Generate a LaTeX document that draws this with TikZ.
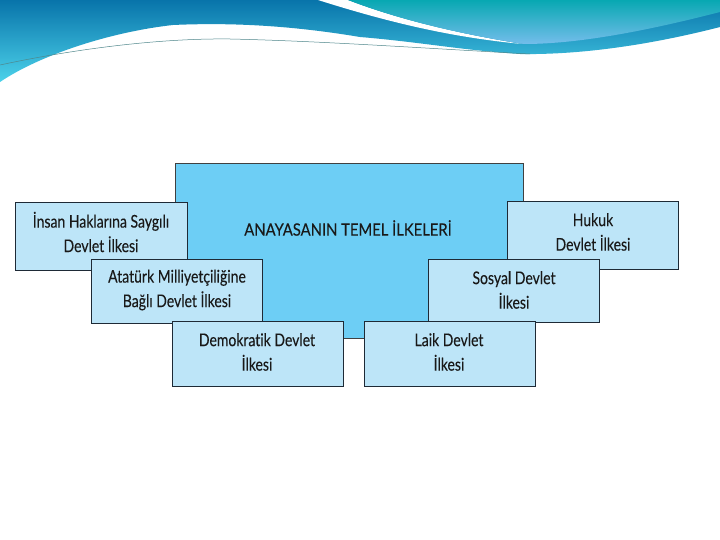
\documentclass[tikz,border=0pt]{standalone}
\usepackage{fontspec}
\setmainfont{Lato}
\newfontfamily\boxfont[FakeStretch=0.8, FakeBold=0.15, Ligatures=NoCommon]{Lato}
\newfontfamily\titlefont[FakeStretch=0.87, FakeBold=0.15, Ligatures=NoCommon]{Lato}
\begin{document}
\begin{tikzpicture}[x=1pt,y=-1pt,
  lbl/.style={font=\boxfont\fontsize{17.5}{24.5}\selectfont, text=black!90, align=center, inner sep=0pt},
  ttl/.style={font=\titlefont\fontsize{17}{24}\selectfont, text=black!90, inner sep=0pt},
  bigbox/.style={draw=black!75, line width=1pt, fill=bigblue, anchor=north west, inner sep=0pt},
  smallbox/.style={draw=boxedge, line width=1.4pt, fill=lightblue, anchor=north west, inner sep=0pt}]
\definecolor{bigblue}{HTML}{6DCEF5}
\definecolor{lightblue}{HTML}{BDE5F8}
\definecolor{boxedge}{HTML}{1E2A36}
\definecolor{topdark}{HTML}{0874AA}
\definecolor{topcyan}{HTML}{4CD2EA}
\definecolor{teal}{HTML}{08A8B2}
\definecolor{tealbot}{HTML}{74BDEB}
\useasboundingbox (0,0) rectangle (720,540);
\fill[white] (0,0) rectangle (720,540);
% header waves
\shade[top color=topdark, bottom color=topcyan]
  (0,0) -- (720,0) -- (720,27) .. controls (650,45) and (580,55) .. (520,54)
  .. controls (460,50) and (420,42) .. (360,37)
  .. controls (300,27) and (240,22) .. (173,25)
  .. controls (110,32) and (40,55) .. (0,82) -- cycle;
\fill[white] (318,0) .. controls (400,26) and (460,38) .. (522,44)
  .. controls (460,34) and (400,20) .. (348,0) -- cycle;
\shade[top color=teal, bottom color=tealbot]
  (348,0) -- (720,0) -- (720,12) .. controls (650,30) and (580,44) .. (524,44)
  .. controls (460,34) and (400,20) .. (348,0) -- cycle;
\draw[color=teal!50!black!70, line width=0.5pt]
  (0,65) .. controls (60,52) and (150,38) .. (230,39)
  .. controls (320,41) and (420,48) .. (530,54);
% boxes
\node[bigbox, minimum width=348pt, minimum height=175pt] (main) at (175,163) {};
\node[ttl] (title) at (348,228) {ANAYASANIN TEMEL İLKELERİ};
\node[smallbox, minimum width=172pt, minimum height=68pt] (insan) at (15,202) {};
\node[lbl] (insan-t) at (101,232) {İnsan Haklarına Saygılı\\Devlet İlkesi};
\node[smallbox, minimum width=171pt, minimum height=68pt] (hukuk) at (507,201) {};
\node[lbl] (hukuk-t) at (593,232) {Hukuk\\Devlet İlkesi};
\node[smallbox, minimum width=171pt, minimum height=64pt] (ataturk) at (91,259) {};
\node[lbl] (ataturk-t) at (177,290) {Atatürk Milliyetçiliğine\\Bağlı Devlet İlkesi};
\node[smallbox, minimum width=171pt, minimum height=63pt] (sosyal) at (428,259) {};
\node[lbl] (sosyal-t) at (514,290) {Sosyal Devlet\\İlkesi};
\node[smallbox, minimum width=171pt, minimum height=65pt] (demokratik) at (172,321) {};
\node[lbl] (demokratik-t) at (257,352) {Demokratik Devlet\\İlkesi};
\node[smallbox, minimum width=171pt, minimum height=65pt] (laik) at (364,321) {};
\node[lbl] (laik-t) at (449,352) {Laik Devlet\\İlkesi};
\end{tikzpicture}
\end{document}
